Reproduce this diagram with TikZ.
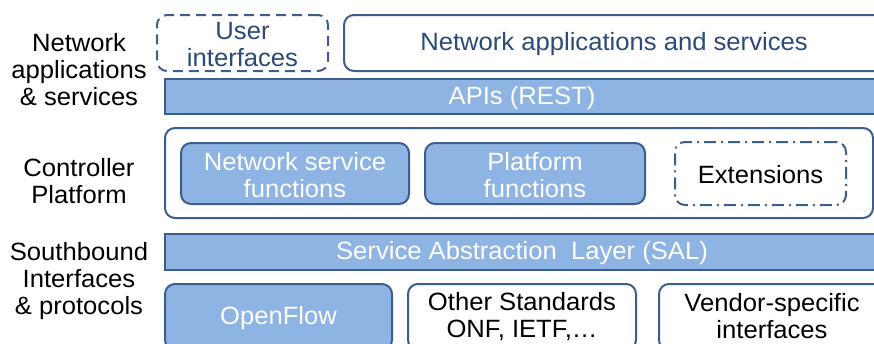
\documentclass[tikz,border=0pt]{standalone}
\usepackage{fontspec}
\setmainfont{Liberation Sans}[FakeStretch=1.025]
\definecolor{bfill}{HTML}{8EB4E3}
\definecolor{bdraw}{HTML}{3B5E8C}
\definecolor{btext}{HTML}{2B4A78}
\begin{document}
\begin{tikzpicture}[x=1pt,y=-1pt,
  every node/.style={inner sep=0pt,outer sep=0pt,align=center,font=\fontsize{25}{27}\selectfont},
  bluebox/.style={draw=bdraw,line width=2pt,fill=bfill,rounded corners=10pt},
  whitebox/.style={draw=bdraw,line width=2pt,fill=white,rounded corners=10pt},
  barbox/.style={draw=bdraw,line width=2.5pt,fill=bfill},
  txt/.style={yshift=-1.5pt,text=black},
  wtxt/.style={txt,text=white},
  btxt/.style={txt,text=btext}]
\useasboundingbox (0,0) rectangle (874,343);
\clip (0,0) rectangle (874,343);
% left labels
\node[txt] (l1) at (79,68) {Network\\applications\\\& services};
\node[txt] (l2) at (79,180) {Controller\\Platform};
\node[txt] (l3) at (79,280) {Southbound\\Interfaces\\\& protocols};
% top row
\node[whitebox,dash pattern=on 10pt off 6pt,minimum width=171pt,minimum height=56pt] (ui) at (242.5,43) {};
\node[btxt] (uit) at (ui.center) {User\\interfaces};
\node[whitebox,minimum width=540pt,minimum height=56pt] (apps) at (614,43) {};
\node[btxt] (appst) at (apps.center) {Network applications and services};
\node[barbox,minimum width=720pt,minimum height=35pt] (api) at (525,96.5) {};
\node[wtxt] (apit) at (522,96.5) {APIs (REST)};
% controller platform
\node[whitebox,minimum width=708pt,minimum height=90pt] (ctrl) at (519,173) {};
\node[bluebox,minimum width=228pt,minimum height=61pt] (nsf) at (295,173.5) {};
\node[wtxt] (nsft) at (nsf.center) {Network service\\functions};
\node[bluebox,minimum width=220pt,minimum height=61pt] (pf) at (535,173.5) {};
\node[wtxt] (pft) at (pf.center) {Platform\\functions};
\node[whitebox,dash pattern=on 12pt off 5pt on 2pt off 5pt,minimum width=171pt,minimum height=63pt] (ext) at (760.5,173.5) {};
\node[txt] (extt) at (ext.center) {Extensions};
% SAL
\node[barbox,minimum width=720pt,minimum height=36pt] (sal) at (525,252) {};
\node[wtxt] (salt) at (522,252) {Service Abstraction\ \ Layer (SAL)};
% southbound
\node[bluebox,minimum width=227pt,minimum height=66pt] (of) at (278.5,317) {};
\node[wtxt] (oft) at (278.5,317) {OpenFlow};
\node[whitebox,minimum width=228pt,minimum height=66pt] (os) at (522,317) {};
\node[txt] (ost) at (522,315) {Other Standards\\ONF, IETF,\ldots};
\node[whitebox,minimum width=226pt,minimum height=66pt] (vs) at (772,317) {};
\node[txt] (vst) at (772,315) {Vendor-specific\\interfaces};
\end{tikzpicture}
\end{document}
